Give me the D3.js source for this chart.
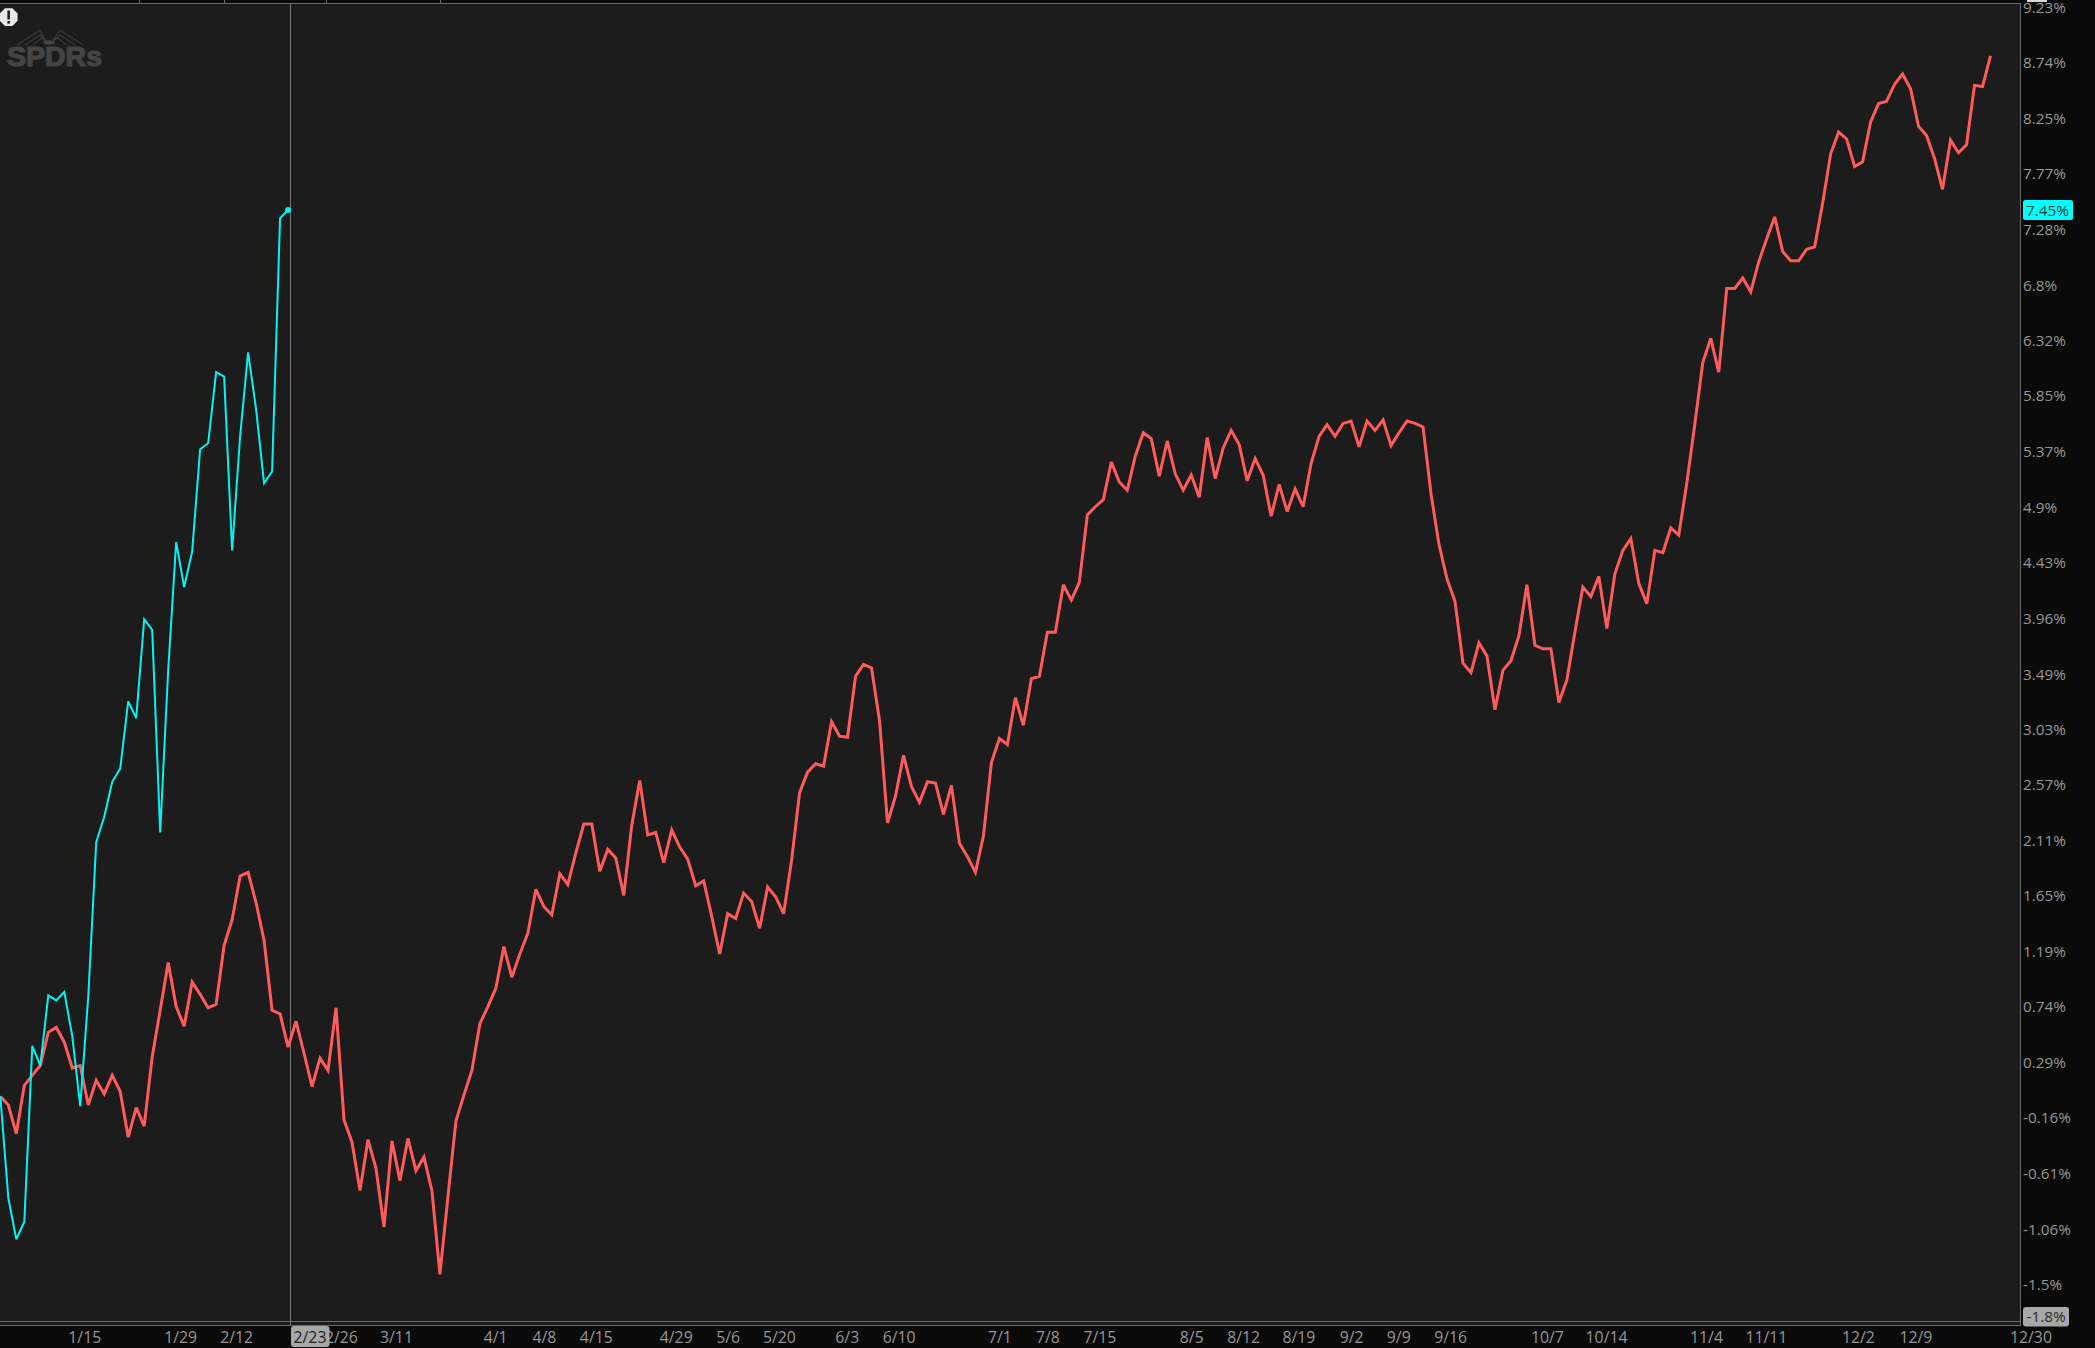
<!DOCTYPE html>
<html><head><meta charset="utf-8">
<script src="https://cdn.jsdelivr.net/npm/d3@7"></script>
<style>
html,body{margin:0;padding:0;background:#0a0a0a;overflow:hidden}
text{font-family:"Open Sans",sans-serif}
</style></head><body><svg id="c" width="2095" height="1348"></svg>
<script>
// Percent change of the two series, one value per trading bar
const redSeries=[
0.01,-0.06,-0.29,0.1,0.18,0.26,0.53,0.57,0.45,0.24,0.26,-0.06,0.14,0.03,0.18,0.05,-0.32,-0.08,-0.23,0.33,
0.71,1.1,0.74,0.58,0.94,0.84,0.73,0.76,1.24,1.45,1.81,1.84,1.59,1.28,0.71,0.68,0.41,0.62,0.36,0.09,
0.32,0.22,0.73,-0.18,-0.36,-0.75,-0.34,-0.57,-1.04,-0.35,-0.67,-0.33,-0.59,-0.48,-0.75,-1.42,-0.8,-0.19,0.02,0.22,
0.6,0.74,0.89,1.23,0.98,1.17,1.34,1.7,1.56,1.49,1.83,1.74,2,2.24,2.24,1.85,2.03,1.96,1.65,2.23,
2.6,2.15,2.17,1.92,2.19,2.05,1.95,1.73,1.77,1.48,1.17,1.5,1.46,1.67,1.6,1.38,1.72,1.64,1.5,1.94,
2.5,2.67,2.74,2.72,3.09,2.97,2.96,3.47,3.57,3.54,3.1,2.25,2.47,2.81,2.55,2.42,2.59,2.58,2.32,2.56,
2.08,1.97,1.84,2.14,2.75,2.95,2.9,3.29,3.06,3.45,3.47,3.84,3.84,4.24,4.11,4.26,4.83,4.9,4.96,5.28,
5.11,5.04,5.33,5.53,5.48,5.16,5.46,5.18,5.04,5.17,4.98,5.49,5.14,5.4,5.55,5.43,5.12,5.31,5.17,4.82,
5.09,4.86,5.05,4.9,5.27,5.5,5.6,5.5,5.61,5.63,5.41,5.63,5.55,5.64,5.42,5.53,5.63,5.61,5.58,5.01,
4.58,4.29,4.1,3.58,3.5,3.75,3.64,3.19,3.52,3.6,3.81,4.24,3.73,3.7,3.7,3.25,3.44,3.84,4.22,4.14,
4.31,3.87,4.33,4.53,4.63,4.25,4.08,4.53,4.51,4.72,4.66,5.1,5.6,6.13,6.34,6.05,6.77,6.77,6.86,6.74,
7,7.2,7.39,7.09,7.01,7.01,7.11,7.13,7.51,7.94,8.13,8.07,7.83,7.87,8.22,8.38,8.4,8.55,8.64,8.51,
8.18,8.1,7.9,7.63,8.06,7.95,8.02,8.54,8.53,8.8];
const cyanSeries=[
0.01,-0.81,-1.14,-1,0.42,0.26,0.83,0.79,0.86,0.5,-0.07,0.82,2.09,2.3,2.59,2.7,3.26,3.12,3.95,3.86,
2.17,3.52,4.6,4.22,4.52,5.39,5.44,6.05,6.01,4.53,5.5,6.22,5.73,5.1,5.2,7.38,7.45];
const yTicks=[9.23,8.74,8.25,7.77,7.28,6.8,6.32,5.85,5.37,4.9,4.43,3.96,3.49,3.03,2.57,2.11,1.65,1.19,0.74,0.29,-0.16,-0.61,-1.06,-1.5];
const yMin=-1.8, yMax=9.23;
const xLabels=["1/15","1/29","2/12","2/26","3/11","4/1","4/8","4/15","4/29","5/6","5/20","6/3","6/10","7/1","7/8","7/15","8/5","8/12","8/19","9/2","9/9","9/16","10/7","10/14","11/4","11/11","12/2","12/9","12/30"];
const xLabelBars=[10.5,22.5,29.5,42.6,49.5,61.9,68,74.5,84.5,91,97.4,105.9,112.4,125,131,137.5,149,155.5,162.4,169,174.9,181.4,193.5,200.9,213.4,220.9,232.4,239.6,254];
const topTickBars=[17.4,28,40.8,55];
const cursorLabel="2/23";

const W=2095,H=1348,plotR=2020.5,plotT=3.5,plotB=1321.5,axisT=1325.5;
const svg=d3.select("#c");
const x=d3.scaleLinear().domain([0,249]).range([0.33,1990.5]);
const y=d3.scaleLog().domain([1+yMin/100,1+yMax/100]).range([1322,7.1]);
const Y=p=>y(1+p/100);
const gridCol="#6a6a6a",txt="#969696";

svg.append("rect").attr("width",W).attr("height",H).attr("fill","#0a0a0a");
svg.append("rect").attr("x",0).attr("y",plotT).attr("width",plotR).attr("height",axisT-plotT).attr("fill","#1c1c1c");
svg.append("rect").attr("x",2027).attr("y",0).attr("width",20).attr("height",2).attr("fill","#d8d8d8");

// frame
const hl=(v)=>svg.append("line").attr("x1",0).attr("x2",plotR).attr("y1",v).attr("y2",v).attr("stroke",gridCol).attr("stroke-width",1);
hl(plotT);hl(plotB);hl(axisT);
svg.append("line").attr("x1",plotR).attr("x2",plotR).attr("y1",plotT).attr("y2",axisT).attr("stroke",gridCol);
topTickBars.forEach(b=>{const px=Math.round(x(b))+.5;svg.append("line").attr("x1",px).attr("x2",px).attr("y1",0).attr("y2",plotT).attr("stroke",gridCol)});

// watermark
const wm=svg.append("g");
wm.append("text").attr("x",7).attr("y",66).attr("font-size",27).attr("font-weight",700).attr("fill","#444")
  .style("font-family","'Liberation Sans',sans-serif").attr("stroke","#444").attr("stroke-width",1.2).attr("textLength",95).attr("lengthAdjust","spacingAndGlyphs").text("SPDRs");
wm.append("ellipse").attr("cx",49).attr("cy",42.5).attr("rx",6).attr("ry",2.2).attr("fill","#444");
["M17,45 L40,30 L46,42","M25,45 L40,35 L46,42","M33,45 L42,38 L47,42","M83,45 L60,30 L52,42","M75,45 L60,35 L52,42","M66,45 L58,38 L51,42"].forEach(d=>
 wm.append("path").attr("d",d).attr("fill","none").attr("stroke","#444").attr("stroke-width",1));

// alert
const al=d3.range(8).map(i=>{const a=Math.PI/8+i*Math.PI/4;return [8.7+9.6*Math.cos(a),17.2+9.6*Math.sin(a)]});
svg.append("polygon").attr("points",al.join(" ")).attr("fill","#e8e8e8");
svg.append("rect").attr("x",7.4).attr("y",10.5).attr("width",2.6).attr("height",9).attr("fill","#222");
svg.append("rect").attr("x",7.4).attr("y",21).attr("width",2.6).attr("height",2.6).attr("fill","#222");

// cursor
const cx=290.5;
svg.append("line").attr("x1",cx).attr("x2",cx).attr("y1",plotT).attr("y2",axisT).attr("stroke","#777");

// series
const line=d3.line().x((d,i)=>x(i)).y(d=>Y(d)).curve(d3.curveLinear);
svg.append("path").datum(redSeries).attr("d",line).attr("fill","none").attr("stroke","#ff5b5b").attr("stroke-width",3).attr("stroke-linejoin","miter").attr("stroke-miterlimit",3);
svg.append("path").datum(cyanSeries).attr("d",line).attr("fill","none").attr("stroke","#00f5f5").attr("stroke-width",2).attr("stroke-linejoin","miter").attr("stroke-miterlimit",3);
svg.append("circle").attr("cx",x(cyanSeries.length-1)).attr("cy",Y(cyanSeries[cyanSeries.length-1])).attr("r",3).attr("fill","#00f5f5");

// y axis
svg.append("g").selectAll("text").data(yTicks).join("text")
 .attr("x",2023).attr("y",d=>Y(d)+5.8).attr("font-size",15.3).attr("fill",txt).text(d=>d+"%");

// x axis
const gx=svg.append("g").attr("transform",`translate(0,${axisT})`)
 .call(d3.axisBottom(x).tickValues(xLabelBars).tickSize(0).tickPadding(0).tickFormat((d,i)=>xLabels[i]));
gx.select(".domain").remove();
gx.selectAll("text").attr("font-size",15.8).attr("fill",txt).attr("dy",0).attr("y",17.5).style("font-family",'"Open Sans",sans-serif');

// tags
svg.append("rect").attr("x",291).attr("y",1326).attr("width",38.5).attr("height",21).attr("rx",3).attr("fill","#a8a8a8");
svg.append("text").attr("x",310).attr("y",1343).attr("text-anchor","middle").attr("font-size",15.8).attr("fill","#222").text(cursorLabel);
const last=cyanSeries[cyanSeries.length-1];
svg.append("rect").attr("x",2023).attr("y",Y(last)-10).attr("width",50).attr("height",20).attr("rx",2.5).attr("fill","#00ffff");
svg.append("text").attr("x",2026).attr("y",Y(last)+5.8).attr("font-size",15.3).attr("fill","#0a3a3a").text(last+"%");
svg.append("rect").attr("x",2023).attr("y",1307).attr("width",46).attr("height",19.5).attr("rx",3).attr("fill","#a8a8a8");
svg.append("text").attr("x",2026.5).attr("y",1322).attr("font-size",15.3).attr("fill","#2a2a2a").text(yMin+"%");
</script></body></html>
